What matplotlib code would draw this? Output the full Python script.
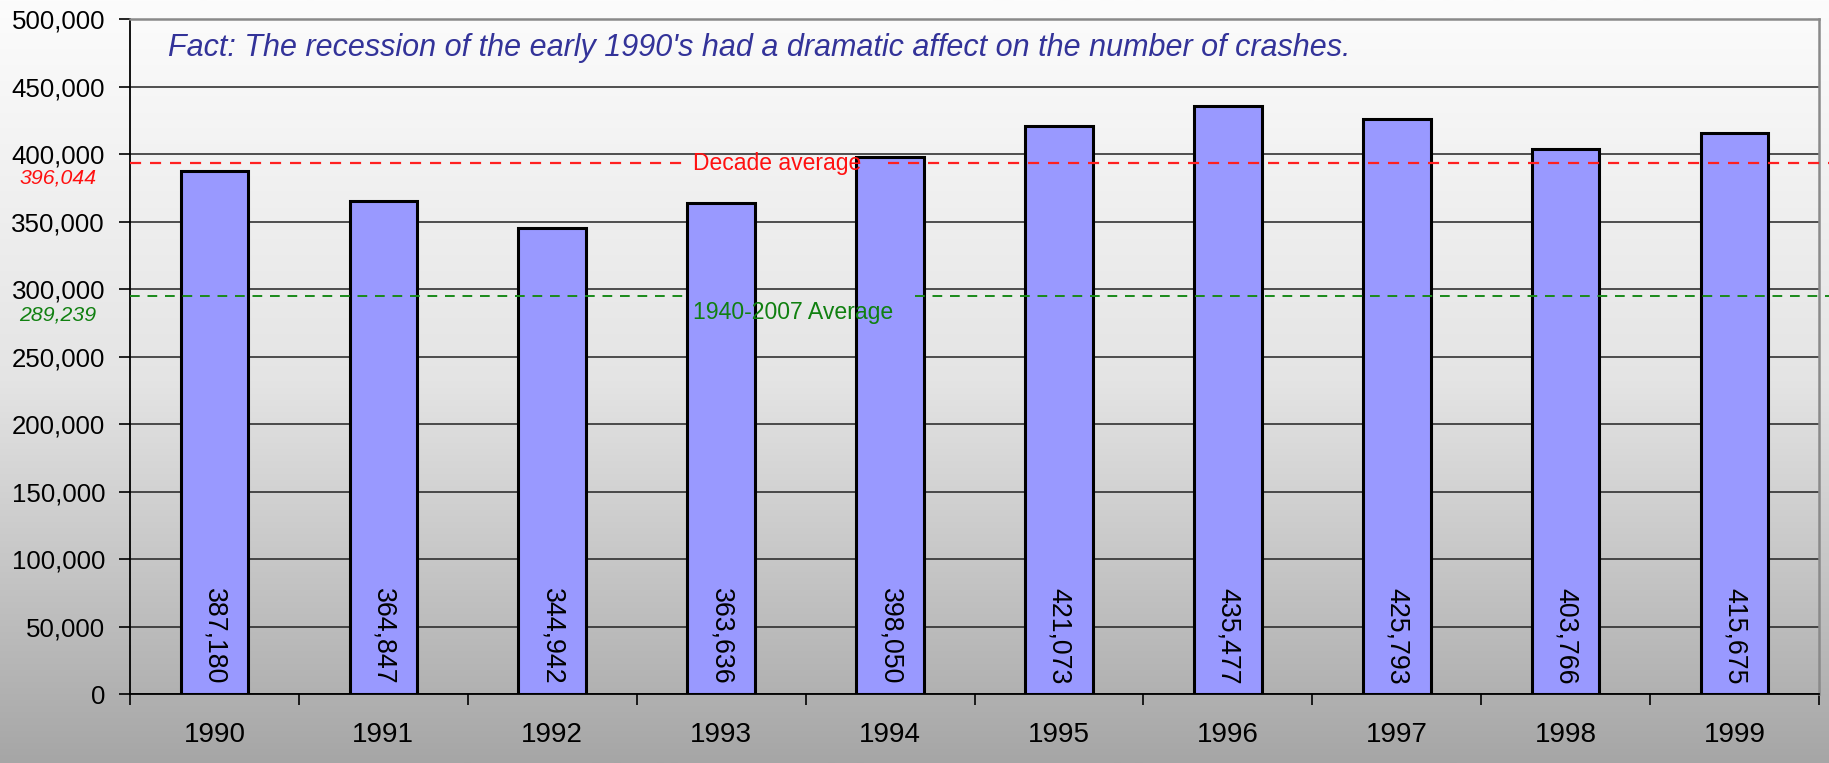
import matplotlib
matplotlib.use("Agg")
import matplotlib.pyplot as plt
import numpy as np
from matplotlib.colors import LinearSegmentedColormap

years = ["1990", "1991", "1992", "1993", "1994", "1995", "1996", "1997", "1998", "1999"]
crashes = [387180, 364847, 344942, 363636, 398050, 421073, 435477, 425793, 403766, 415675]
decade_avg_label = "396,044"
longterm_avg_label = "289,239"
decade_line = 393000
longterm_line = 295000
yticks = list(range(0, 500001, 50000))
title = "Fact: The recession of the early 1990's had a dramatic affect on the number of crashes."

plt.rcParams['font.family'] = ['Liberation Sans', 'DejaVu Sans']

W, H = 1829, 763
fig = plt.figure(figsize=(W / 100, H / 100), dpi=100)

# gradient background
bg = fig.add_axes([0, 0, 1, 1], zorder=-10)
cmap = LinearSegmentedColormap.from_list("g", ["#fcfcfc", "#e4e4e4", "#a6a6a6"])
grad = np.linspace(0, 1, 256).reshape(-1, 1)
bg.imshow(grad, aspect="auto", cmap=cmap, extent=[0, 1, 0, 1], origin="upper")
bg.set_axis_off()

ax = fig.add_axes([130 / W, 1 - 694 / H, (1819 - 130) / W, (694 - 19) / H])
ax.patch.set_alpha(0)

x = np.arange(len(years))
ax.bar(x, crashes, width=0.40, color="#9999ff", edgecolor="black", linewidth=2.2, zorder=3)

ax.set_xlim(-0.5, len(years) - 0.5)
ax.set_ylim(0, 500000)
ax.set_yticks(yticks)
ax.set_yticklabels([f"{v:,}" for v in yticks], fontsize=18.6)
ax.yaxis.grid(True, color="#222222", linewidth=1.1, zorder=1)
ax.set_axisbelow(True)

ax.set_xticks(x)
ax.set_xticklabels(years, fontsize=20)
ax.set_xticks(np.arange(-0.5, len(years)), minor=True)
ax.tick_params(axis="x", which="major", length=0, pad=20)
ax.tick_params(axis="x", which="minor", length=8, width=1.2, direction="out")
ax.tick_params(axis="y", length=8, width=1.2, pad=10)

for s in ["top", "right"]:
    ax.spines[s].set_color("#8a8a8a")
    ax.spines[s].set_linewidth(1.8)
for s in ["left", "bottom"]:
    ax.spines[s].set_color("black")
    ax.spines[s].set_linewidth(1.3)

for xi, v in zip(x, crashes):
    ax.text(xi, 7000, f"{v:,}", rotation=270, ha="center", va="bottom", fontsize=19.3, zorder=4)

# average lines (dashed, broken around their labels, extending to figure edge)
px = 1689 / len(years)
def xd(pxl):
    return (pxl - 130) / px - 0.5

xend = xd(1829)
ax.plot([xd(130), xd(690)], [decade_line] * 2, ls=(0, (5, 4)), color="#ff2020", lw=1.6, clip_on=False, zorder=5)
ax.plot([xd(888), xend], [decade_line] * 2, ls=(0, (5, 4)), color="#ff2020", lw=1.6, clip_on=False, zorder=5)
ax.plot([xd(130), xd(687)], [longterm_line] * 2, ls=(0, (5, 4)), color="#1a8a1a", lw=1.4, clip_on=False, zorder=5)
ax.plot([xd(915), xend], [longterm_line] * 2, ls=(0, (5, 4)), color="#1a8a1a", lw=1.4, clip_on=False, zorder=5)

ax.text(xd(693), decade_line, "Decade average", color="#ff1010", fontsize=16.5, ha="left", va="center", zorder=6)
ax.text(xd(693), longterm_line - 4000, "1940-2007 Average", color="#108010", fontsize=16.6, ha="left", va="top", zorder=6)

fig.text(19 / W, 1 - 178 / H, decade_avg_label, color="#ff1010", fontsize=15.3, style="italic", ha="left", va="center")
fig.text(19 / W, 1 - 315 / H, longterm_avg_label, color="#108010", fontsize=15.3, style="italic", ha="left", va="center")

fig.text(168 / W, 1 - 48 / H, title, color="#333399", fontsize=22, style="italic", ha="left", va="center")

fig.savefig("out.png", dpi=100)
